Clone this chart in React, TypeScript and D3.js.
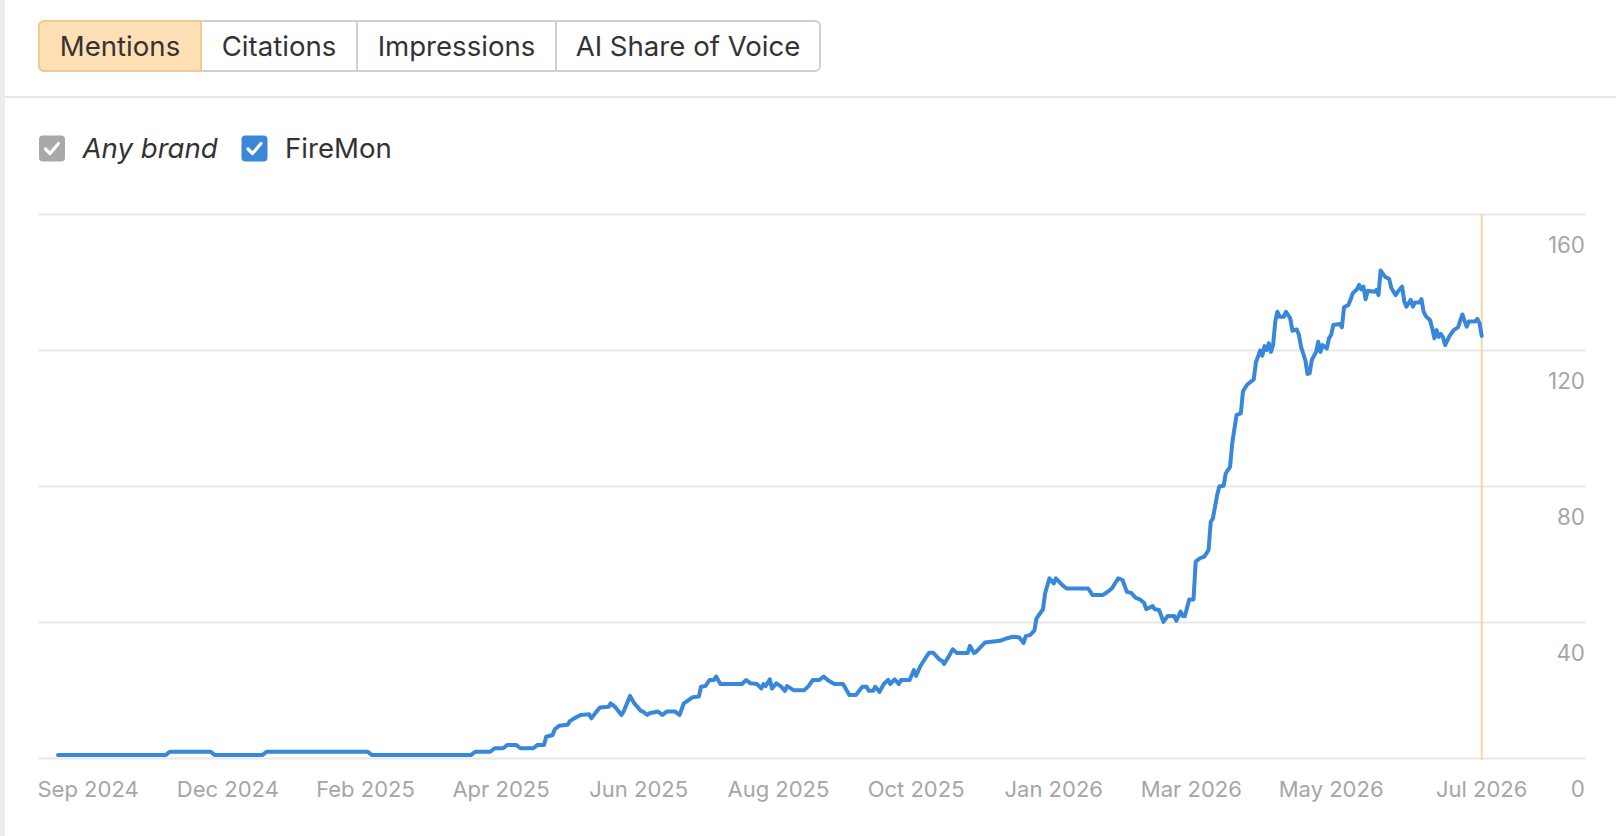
import React from "react";
import * as d3 from "d3";

const tabs = ["Mentions", "Citations", "Impressions", "AI Share of Voice"];
const activeTab = "Mentions";
const legendItems = [
  { label: "Any brand", italic: true, color: "#a9a9a9" },
  { label: "FireMon", italic: false, color: "#3a86d9" },
];
const tickLabels = ["Sep 2024", "Dec 2024", "Feb 2025", "Apr 2025", "Jun 2025", "Aug 2025", "Oct 2025", "Jan 2026", "Mar 2026", "May 2026", "Jul 2026"];
const tickDays = [14, 79, 143, 206, 270, 335, 399, 463, 527, 592, 662];
const yTicks = [0, 40, 80, 120, 160];

const days = [
  0, 50, 52, 71, 73, 95, 97, 144, 146, 192, 194, 201, 203, 207, 209, 213, 215, 221, 223, 226,
  227, 230, 231, 233, 237, 238, 240, 243, 247, 248, 250, 252, 256, 257, 259, 262, 263, 266, 268, 271,
  272, 274, 275, 279, 281, 283, 287, 289, 291, 295, 298, 299, 301, 303, 305, 306, 308, 318, 320, 322,
  325, 327, 328, 329, 331, 332, 334, 336, 338, 339, 342, 347, 349, 351, 354, 356, 358, 361, 365, 368,
  371, 374, 376, 377, 379, 380, 382, 384, 386, 387, 389, 391, 392, 396, 398, 399, 401, 405, 407, 410,
  411, 412, 414, 416, 418, 423, 424, 426, 427, 431, 438, 441, 444, 447, 449, 450, 452, 454, 455, 458,
  459, 461, 463, 464, 467, 469, 479, 481, 486, 488, 490, 493, 495, 497, 499, 501, 503, 505, 506, 509,
  510, 512, 514, 516, 519, 520, 522, 523, 524, 526, 528, 529, 531, 533, 535, 536, 537, 539, 540, 542,
  543, 545, 546, 548, 550, 551, 553, 556, 557, 559, 560, 561, 562, 563, 564, 565, 566, 567, 568, 570,
  571, 573, 574, 576, 577, 578, 580, 581, 582, 583, 585, 586, 587, 588, 590, 591, 592, 593, 596, 597,
  598, 600, 601, 602, 604, 605, 606, 607, 608, 609, 612, 613, 614, 615, 617, 619, 620, 622, 623, 625,
  626, 627, 629, 630, 631, 633, 634, 635, 636, 638, 639, 640, 641, 642, 643, 644, 645, 647, 649, 651,
  653, 655, 656, 659, 660, 661, 662,
];

const mentions = [
  1, 1, 2, 2, 1, 1, 2, 2, 1, 1, 2, 2, 3, 3, 4, 4, 3, 3, 4, 4,
  6.4, 6.9, 8.6, 9.6, 9.9, 11, 11.8, 12.8, 13, 11.8, 13.5, 15, 15.2, 16.2, 15.2, 12.8, 13.8, 18.4, 16.2, 14,
  13.8, 12.8, 13.3, 13.8, 12.8, 13.8, 13.8, 12.8, 16.2, 18, 18.2, 21.1, 21.3, 23.1, 23.1, 24.1, 21.9, 21.9, 23.1, 22.1,
  21.9, 20.6, 21.9, 21.3, 23.3, 20.6, 22.1, 21.3, 19.9, 21.3, 20.1, 20.1, 21.3, 23.1, 23.1, 24.1, 23, 21.9, 21.9, 18.7,
  18.7, 21.1, 21.1, 19.9, 19.9, 21.1, 19.6, 21.9, 23.1, 21.9, 23.3, 21.9, 23.1, 23.1, 26, 24.3, 27.2, 31.1, 31.1, 29,
  28.8, 27.8, 29.8, 32.1, 31, 31, 33.1, 31, 31.4, 34.1, 34.6, 35.3, 35.8, 35.6, 34, 36, 36.3, 37.6, 41.2, 43.9,
  48.6, 53, 51.5, 53, 51, 50, 50, 48.1, 48.1, 49, 50, 53, 52.5, 49, 48.7, 47.3, 46.8, 45.8, 43.9, 44.8,
  43.9, 43.7, 40.2, 41.9, 41.9, 40.5, 43.2, 41.9, 41.9, 46.8, 46.8, 57.9, 58.9, 59.4, 61.3, 69.6, 70.6, 77.5, 80, 80.2,
  83.9, 85.8, 92.7, 101, 101.5, 108, 110, 111.5, 116.5, 120, 118.5, 121.3, 120.1, 122.1, 119.6, 121.6, 128.5, 131.4, 129.9, 129.9,
  131.4, 129.4, 125.8, 126.2, 124.6, 121.1, 117.2, 113.1, 113.3, 117.2, 119.6, 122.6, 119.6, 121.6, 120.6, 123.6, 124.6, 127.5, 127.8, 126.8,
  132.7, 133.4, 134.9, 136.8, 138, 139.3, 138, 138.8, 135.1, 137.6, 137.3, 137.8, 136.3, 143.5, 141.7, 141, 138.3, 136.3, 137.3, 138.8,
  134.4, 132.9, 134.9, 132.9, 134.1, 134.1, 135.1, 131.4, 130.1, 128.9, 126.5, 123.6, 126, 124, 124.9, 123.9, 121.6, 124.2, 126, 126.8,
  130.6, 127, 128.5, 128.5, 129.3, 128, 124.3,
];

const W = 1616;
const H = 836;
const FONT = "Inter, 'Noto Sans', sans-serif";

const tabEdges = [39, 201, 357, 556, 820];

export default function App() {
  const lastDay = d3.max(days) as number;
  const x = d3.scaleLinear().domain([0, lastDay]).range([58, 1481.7]);
  const y = d3.scaleLinear().domain([0, 160]).range([758.5, 214.5]);
  const points = days.map((d, i) => [d, mentions[i]] as [number, number]);
  const line = d3
    .line<[number, number]>()
    .x((p) => x(p[0]))
    .y((p) => y(p[1]));

  const tabTop = 21;
  const tabH = 50;

  return (
    <div style={{ position: "fixed", left: 0, top: 0, width: W, height: H, background: "#fff" }}>
      <svg width={W} height={H} style={{ display: "block" }} fontFamily={FONT}>
        <rect x={0} y={0} width={W} height={H} fill="#fff" />
        <rect x={0} y={0} width={5} height={H} fill="#eaedf0" />
        <line x1={5} x2={W} y1={97} y2={97} stroke="#e7e7e7" strokeWidth={2} />

        {/* Tabs */}
        <defs>
          <clipPath id="tabclip">
            <rect x={tabEdges[0]} y={tabTop} width={tabEdges[4] - tabEdges[0]} height={tabH} rx={5} />
          </clipPath>
        </defs>
        <g clipPath="url(#tabclip)">
          {tabs.map((t, i) => (
            <rect
              key={t}
              x={tabEdges[i]}
              y={tabTop}
              width={tabEdges[i + 1] - tabEdges[i]}
              height={tabH}
              fill={t === activeTab ? "#ffdfb4" : "#fff"}
            />
          ))}
        </g>
        <rect
          x={tabEdges[0]}
          y={tabTop}
          width={tabEdges[4] - tabEdges[0]}
          height={tabH}
          rx={5}
          fill="none"
          stroke="#d0d0d0"
          strokeWidth={2}
        />
        {tabs.map((t, i) =>
          i > 0 ? (
            <line key={"d" + t} x1={tabEdges[i]} x2={tabEdges[i]} y1={tabTop} y2={tabTop + tabH} stroke="#d0d0d0" strokeWidth={2} />
          ) : null
        )}
        <path
          d={`M${tabEdges[1]},${tabTop} H${tabEdges[0] + 5} A5,5 0 0 0 ${tabEdges[0]},${tabTop + 5} V${tabTop + tabH - 5} A5,5 0 0 0 ${tabEdges[0] + 5},${tabTop + tabH} H${tabEdges[1]} Z`}
          fill="none"
          stroke="#f4c891"
          strokeWidth={2}
        />
        {tabs.map((t, i) => (
          <text
            key={"t" + t}
            x={(tabEdges[i] + tabEdges[i + 1]) / 2}
            y={56}
            textAnchor="middle"
            fontSize={27.6}
            fill="#333"
          >
            {t}
          </text>
        ))}

        {/* Legend */}
        {legendItems.map((it, i) => {
          const bx = i === 0 ? 39 : 241.5;
          const by = 135.5;
          return (
            <g key={it.label}>
              <rect x={bx} y={by} width={26} height={26} rx={4} fill={it.color} />
              <path
                d={`M${bx + 6.5},${by + 13.5} L${bx + 11},${by + 18} L${bx + 19.5},${by + 8}`}
                fill="none"
                stroke="#fff"
                strokeWidth={3.2}
                strokeLinecap="round"
                strokeLinejoin="round"
              />
              <text
                x={bx + 43.5}
                y={158}
                fontSize={27.6}
                fill="#333"
                fontStyle={it.italic ? "italic" : "normal"}
              >
                {it.label}
              </text>
            </g>
          );
        })}

        {/* Gridlines */}
        {yTicks.map((t) => (
          <line key={"g" + t} x1={39} x2={1586} y1={y(t)} y2={y(t)} stroke="#e8e8e8" strokeWidth={2} />
        ))}
        {yTicks.map((t) => (
          <text key={"yl" + t} x={1585} y={y(t) + 38.3} textAnchor="end" fontSize={22.4} fill="#a6a6a6">
            {t}
          </text>
        ))}

        {/* Current marker */}
        <line x1={x(lastDay)} x2={x(lastDay)} y1={y(160)} y2={760} stroke="#fdd3a0" strokeWidth={2} />

        {/* Series */}
        <path
          d={line(points) || ""}
          fill="none"
          stroke="#3787db"
          strokeWidth={4}
          strokeLinejoin="round"
          strokeLinecap="round"
        />

        {/* X labels */}
        {tickLabels.map((lab, i) => (
          <text key={lab} x={x(tickDays[i])} y={796.5} textAnchor="middle" fontSize={22} fill="#a6a6a6">
            {lab}
          </text>
        ))}
      </svg>
    </div>
  );
}
